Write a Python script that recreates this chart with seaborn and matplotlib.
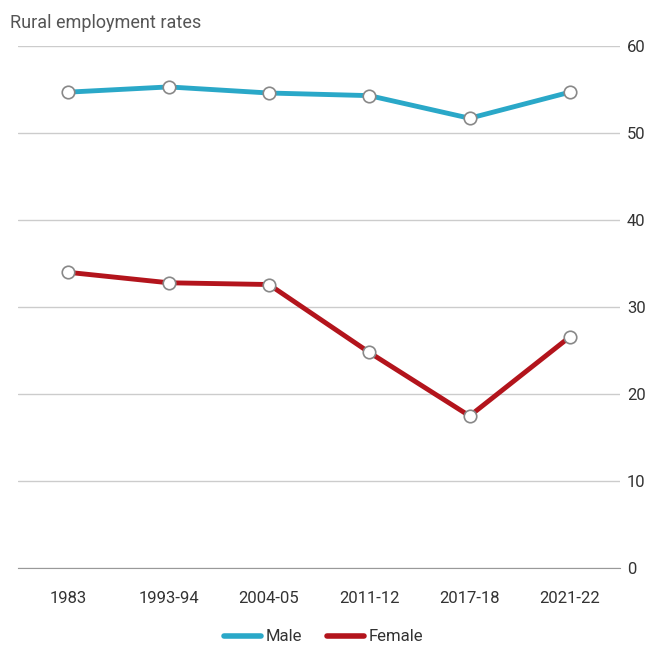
import matplotlib
matplotlib.use("Agg")
import matplotlib.pyplot as plt
import seaborn as sns
import pandas as pd

periods = ["1983", "1993-94", "2004-05", "2011-12", "2017-18", "2021-22"]
male = [54.7, 55.3, 54.6, 54.3, 51.7, 54.7]
female = [34.0, 32.8, 32.6, 24.8, 17.5, 26.6]
yticks = [0, 10, 20, 30, 40, 50, 60]

df = pd.DataFrame({
    "period": periods * 2,
    "x": list(range(len(periods))) * 2,
    "value": male + female,
    "series": ["Male"] * len(periods) + ["Female"] * len(periods),
})

sns.set_style("white")
plt.rcParams['font.family'] = ['Roboto', 'DejaVu Sans']

colors = {"Male": "#2aa8c8", "Female": "#b3141c"}
fig = plt.figure(figsize=(6.48, 6.48), dpi=100)
ax = fig.add_axes([0.028, 0.123, 0.929, 0.806])

sns.lineplot(data=df, x="x", y="value", hue="series", palette=colors,
             linewidth=3.5, marker="o", markersize=9, markerfacecolor="white",
             markeredgewidth=1.2, ax=ax, legend=False)
for line in ax.lines:
    line.set_markeredgecolor("#888888")

ax.set_xlim(-0.5, len(periods) - 0.5)
ax.set_ylim(0, 60)
ax.set_yticks(yticks)
ax.yaxis.tick_right()
ax.tick_params(axis="y", length=0, pad=5, labelsize=12, labelcolor="#333333")
ax.grid(axis="y", color="#cccccc", linewidth=1)
ax.set_axisbelow(True)

# x axis: boundary ticks and centered labels
ax.set_xticks([i - 0.5 for i in range(len(periods) + 1)])
ax.set_xticklabels([])
ax.set_xticks(list(range(len(periods))), minor=True)
ax.set_xticklabels(periods, minor=True)
ax.tick_params(axis="x", which="major", direction="in", length=8, color="#999999", width=1)
ax.tick_params(axis="x", which="minor", length=0, pad=16, labelsize=12, labelcolor="#333333")
for s in ["top", "left", "right"]:
    ax.spines[s].set_visible(False)
ax.spines["bottom"].set_color("#999999")
ax.set_xlabel("")
ax.set_ylabel("")

fig.text(0.015, 0.965, "Rural employment rates", fontsize=13, color="#555555", ha="left", va="center")

from matplotlib.lines import Line2D
handles = [Line2D([0], [0], color=colors["Male"], lw=4),
           Line2D([0], [0], color=colors["Female"], lw=4)]
fig.legend(handles, ["Male", "Female"], loc="center", bbox_to_anchor=(0.5, 0.017),
           ncol=2, frameon=False, fontsize=12, handlelength=2.2, handletextpad=0.3,
           columnspacing=1.5, labelcolor="#333333")

fig.savefig("out.png", dpi=100)
